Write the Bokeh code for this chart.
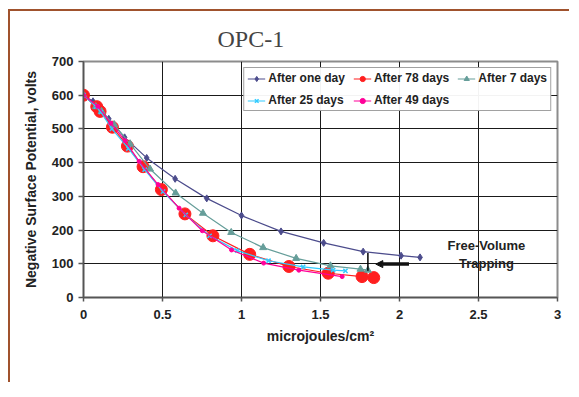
from bokeh.plotting import figure
from bokeh.models import (Legend, LegendItem, FixedTicker, Arrow, NormalHead, Label, Range1d)
from bokeh.embed import file_html
from bokeh.resources import INLINE

# ---- data ----
one_day_x = [0, 0.06, 0.16, 0.26, 0.40, 0.58, 0.78, 1.00, 1.25, 1.52, 1.77, 2.01, 2.13]
one_day_y = [600, 582, 530, 475, 414, 352, 294, 243, 196, 162, 136, 124, 119]

d78_x = [0, 0.084, 0.105, 0.183, 0.278, 0.377, 0.493, 0.642, 0.819, 1.052, 1.30, 1.549, 1.763, 1.837]
d78_y = [600, 566, 552, 505, 449, 388, 320, 248, 183, 128, 92, 72, 62, 59]

d7_x = [0, 0.078, 0.114, 0.194, 0.295, 0.421, 0.583, 0.756, 0.935, 1.137, 1.346, 1.563, 1.753, 1.80]
d7_y = [600, 566, 552, 513, 456, 381, 310, 250, 193, 148, 116, 94, 84, 81]

d25_x = [0, 0.08, 0.11, 0.18, 0.284, 0.387, 0.503, 0.647, 0.798, 0.973, 1.171, 1.39, 1.58, 1.658]
d25_y = [600, 566, 550, 500, 442, 379, 314, 245, 183, 139, 109, 91, 81, 79]

d49_x = [0, 0.09, 0.173, 0.263, 0.352, 0.472, 0.605, 0.752, 0.937, 1.14, 1.363, 1.637]
d49_y = [600, 567, 517, 465, 404, 335, 265, 198, 141, 102, 81, 62]

series_names = ["After one day", "After 78 days", "After 7 days", "After 25 days", "After 49 days"]

x_ticks = [0, 0.5, 1, 1.5, 2, 2.5, 3]
x_tick_labels = ["0", "0.5", "1", "1.5", "2", "2.5", "3"]
y_ticks = [0, 100, 200, 300, 400, 500, 600, 700]

# annotation positions (data units)
gap_x, gap_top, gap_bottom = 1.80, 132, 79
arrow_x0, arrow_x1, arrow_y = 2.06, 1.85, 99
note_x, note_y1, note_y2 = 2.55, 153, 101

FONT = "Liberation Sans"

p = figure(frame_width=474, frame_height=236,
           min_border_left=73, min_border_right=12, min_border_top=50, min_border_bottom=85,
           x_range=Range1d(0, 3), y_range=Range1d(0, 700),
           output_backend="svg", toolbar_location=None)
p.styles = {"border-top": "2px solid #A0522D", "border-left": "2px solid #A0522D",
            "margin-top": "9px", "margin-left": "8px"}

p.background_fill_color = "white"
p.border_fill_color = "white"
p.outline_line_color = "#8c8c8c"
p.outline_line_width = 2

# title
p.title.text = "OPC-1"
p.title.align = "left"
p.title.offset = 134
p.title.text_font = "Liberation Serif"
p.title.text_font_style = "normal"
p.title.text_font_size = "24px"
p.title.standoff = 19

# axes
for ax in (p.xaxis[0], p.yaxis[0]):
    ax.axis_line_color = "#555555"
    ax.axis_line_width = 1.5
    ax.major_tick_line_color = "#555555"
    ax.major_tick_line_width = 1.5
    ax.major_tick_in = 0
    ax.minor_tick_line_color = None
    ax.major_label_text_font = FONT
    ax.major_label_text_font_style = "bold"
    ax.major_label_text_font_size = "13px"
    ax.major_label_text_color = "#222222"
    ax.axis_label_text_font = FONT
    ax.axis_label_text_font_style = "bold"
    ax.axis_label_text_font_size = "14px"
    ax.axis_label_text_color = "#222222"

p.xaxis[0].ticker = FixedTicker(ticks=x_ticks)
p.xaxis[0].major_label_overrides = {t: l for t, l in zip(x_ticks, x_tick_labels)}
p.xaxis[0].major_tick_out = 4
p.xaxis[0].major_label_standoff = 8
p.xaxis[0].axis_label = "microjoules/cm\u00b2"
p.xaxis[0].axis_label_standoff = 6

p.yaxis[0].ticker = FixedTicker(ticks=y_ticks)
p.yaxis[0].major_tick_out = 5
p.yaxis[0].major_label_standoff = 5
p.yaxis[0].axis_label = "Negative Surface Potential, volts"
p.yaxis[0].axis_label_standoff = 10

p.xgrid[0].ticker = FixedTicker(ticks=x_ticks)
p.ygrid[0].ticker = FixedTicker(ticks=y_ticks)
for g in (p.xgrid[0], p.ygrid[0]):
    g.grid_line_color = "#1a1a1a"
    g.grid_line_width = 1

# series
styles = [
    (one_day_x, one_day_y, "#4C4C8C", "diamond", 7, "#4C4C8C"),
    (d78_x, d78_y, "#FF1F1F", "circle", 12, "#FF1F1F"),
    (d7_x, d7_y, "#669E9A", "triangle", 7, "#669E9A"),
    (d25_x, d25_y, "#33CCFF", "x", 6, None),
    (d49_x, d49_y, "#FF0099", "circle", 4, "#FF0099"),
]
items = []
for name, (xs, ys, col, mk, sz, fill) in zip(series_names, styles):
    lr = p.line(xs, ys, line_color=col, line_width=1.2)
    sr = p.scatter(xs, ys, marker=mk, size=sz, line_color=col,
                   fill_color=fill if fill else col, line_width=1.5 if mk == "x" else 1)
    items.append(LegendItem(label=name, renderers=[lr, sr]))

# annotations
p.add_layout(Arrow(x_start=gap_x, y_start=gap_top, x_end=gap_x, y_end=gap_bottom,
                   end=None, line_color="black", line_width=1.5))
p.add_layout(Arrow(x_start=arrow_x0, y_start=arrow_y, x_end=arrow_x1, y_end=arrow_y,
                   line_color="#111111", line_width=3.5,
                   end=NormalHead(size=7, fill_color="#111111", line_color="#111111")))
for yy, txt in ((note_y1, "Free-Volume"), (note_y2, "Trapping")):
    p.add_layout(Label(x=note_x, y=yy, text=txt, text_align="center", text_baseline="middle",
                       text_font=FONT, text_font_style="bold", text_font_size="13px",
                       text_color="#222222"))

legend = Legend(items=items, orientation="horizontal", ncols=3,
                location="top_right",
                padding=3, margin=6, spacing=8,
                label_height=13, glyph_height=13, glyph_width=18,
                label_standoff=3,
                label_text_font=FONT, label_text_font_style="bold", label_text_font_size="12px",
                label_text_color="#222222",
                border_line_color="#444444", border_line_width=1.5,
                background_fill_color="white")
p.add_layout(legend, "center")

open("out.html", "w").write(file_html(p, INLINE))
